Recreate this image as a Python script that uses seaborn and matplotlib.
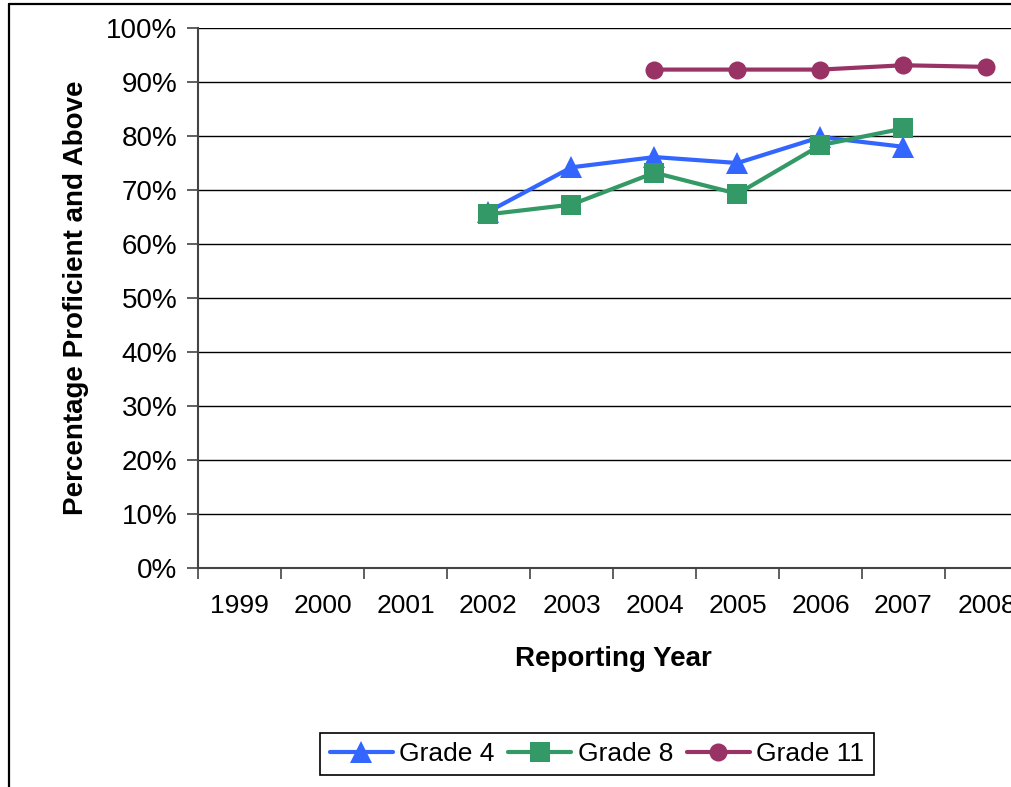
import numpy as np
import pandas as pd
import seaborn as sns
import matplotlib
matplotlib.use("Agg")
import matplotlib.pyplot as plt
from matplotlib.lines import Line2D
from matplotlib.ticker import FuncFormatter

years = [1999, 2000, 2001, 2002, 2003, 2004, 2005, 2006, 2007, 2008]
grade4 = [np.nan, np.nan, np.nan, 66.0, 74.2, 76.1, 75.0, 79.8, 78.0, np.nan]
grade8 = [np.nan, np.nan, np.nan, 65.5, 67.3, 73.2, 69.3, 78.3, 81.4, np.nan]
grade11 = [np.nan, np.nan, np.nan, np.nan, np.nan, 92.3, 92.3, 92.3, 93.1, 92.8]
series_names = ["Grade 4", "Grade 8", "Grade 11"]

df = pd.concat([
    pd.DataFrame({"year": years, "pct": vals, "grade": name})
    for name, vals in zip(series_names, [grade4, grade8, grade11])
]).dropna()

sns.set_theme(style="white")
plt.rcParams["font.family"] = ["Liberation Sans", "DejaVu Sans"]
plt.rcParams["text.color"] = "black"
plt.rcParams["axes.labelcolor"] = "black"

colors = {"Grade 4": "#3366FF", "Grade 8": "#339966", "Grade 11": "#993366"}
markers = {"Grade 4": "^", "Grade 8": "s", "Grade 11": "o"}
msizes = {"Grade 4": 16, "Grade 8": 14, "Grade 11": 13}

fig = plt.figure(figsize=(10.12, 7.87), dpi=100)
ax = fig.add_axes([198 / 1012, 1 - 568 / 787, 830 / 1012, 540 / 787])

for name in series_names:
    sub = df[df["grade"] == name]
    sns.lineplot(data=sub, x="year", y="pct", ax=ax, color=colors[name],
                 marker=markers[name], markersize=msizes[name],
                 markeredgewidth=0, linewidth=3, label=name, legend=False)

ax.set_xlim(years[0] - 0.5, years[-1] + 0.5)
ax.set_ylim(0, 100)

# category boundaries carry the tick marks, centres carry the labels
ax.set_xticks([y - 0.5 for y in years] + [years[-1] + 0.5])
ax.set_xticklabels([])
ax.set_xticks(years, minor=True)
ax.set_xticklabels([str(y) for y in years], minor=True)
ax.tick_params(axis="x", which="major", direction="out", length=8, width=1.2,
               color="#444444", bottom=True)
ax.tick_params(axis="x", which="minor", length=0, pad=19, labelsize=19,
               labelcolor="black")

ax.set_yticks(np.arange(0, 101, 10))
ax.yaxis.set_major_formatter(FuncFormatter(lambda v, _: f"{v:.0f}%"))
ax.tick_params(axis="y", direction="out", length=8, width=1.2, color="#444444",
               left=True, pad=7, labelsize=20, labelcolor="black")

ax.grid(axis="y", color="black", linewidth=1)
ax.grid(axis="x", visible=False)
for side in ["top", "right"]:
    ax.spines[side].set_visible(False)
for side in ["left", "bottom"]:
    ax.spines[side].set_color("#444444")
    ax.spines[side].set_linewidth(1.5)

ax.set_xlabel("Reporting Year", fontsize=20, fontweight="bold", labelpad=20)
ax.set_ylabel("Percentage Proficient and Above", fontsize=20, fontweight="bold", labelpad=12)

handles = [Line2D([], [], color=colors[n], marker=markers[n], markersize=msizes[n],
                  markeredgewidth=0, linewidth=3) for n in series_names]
leg = fig.legend(handles, series_names, loc="center", ncol=3,
                 bbox_to_anchor=(597 / 1012, 1 - 754 / 787), fontsize=19,
                 frameon=True, fancybox=False, edgecolor="black", framealpha=1,
                 handlelength=2.4, handletextpad=0.25, columnspacing=0.5,
                 borderpad=0.35)
leg.get_frame().set_linewidth(1.2)

# outer chart border (top and left edges)
fig.add_artist(Line2D([9 / 1012, 1.0], [1 - 4 / 787, 1 - 4 / 787],
                      transform=fig.transFigure, color="black", linewidth=1.6))
fig.add_artist(Line2D([9 / 1012, 9 / 1012], [0.0, 1 - 4 / 787],
                      transform=fig.transFigure, color="black", linewidth=1.6))

fig.savefig("out.png", dpi=100)
